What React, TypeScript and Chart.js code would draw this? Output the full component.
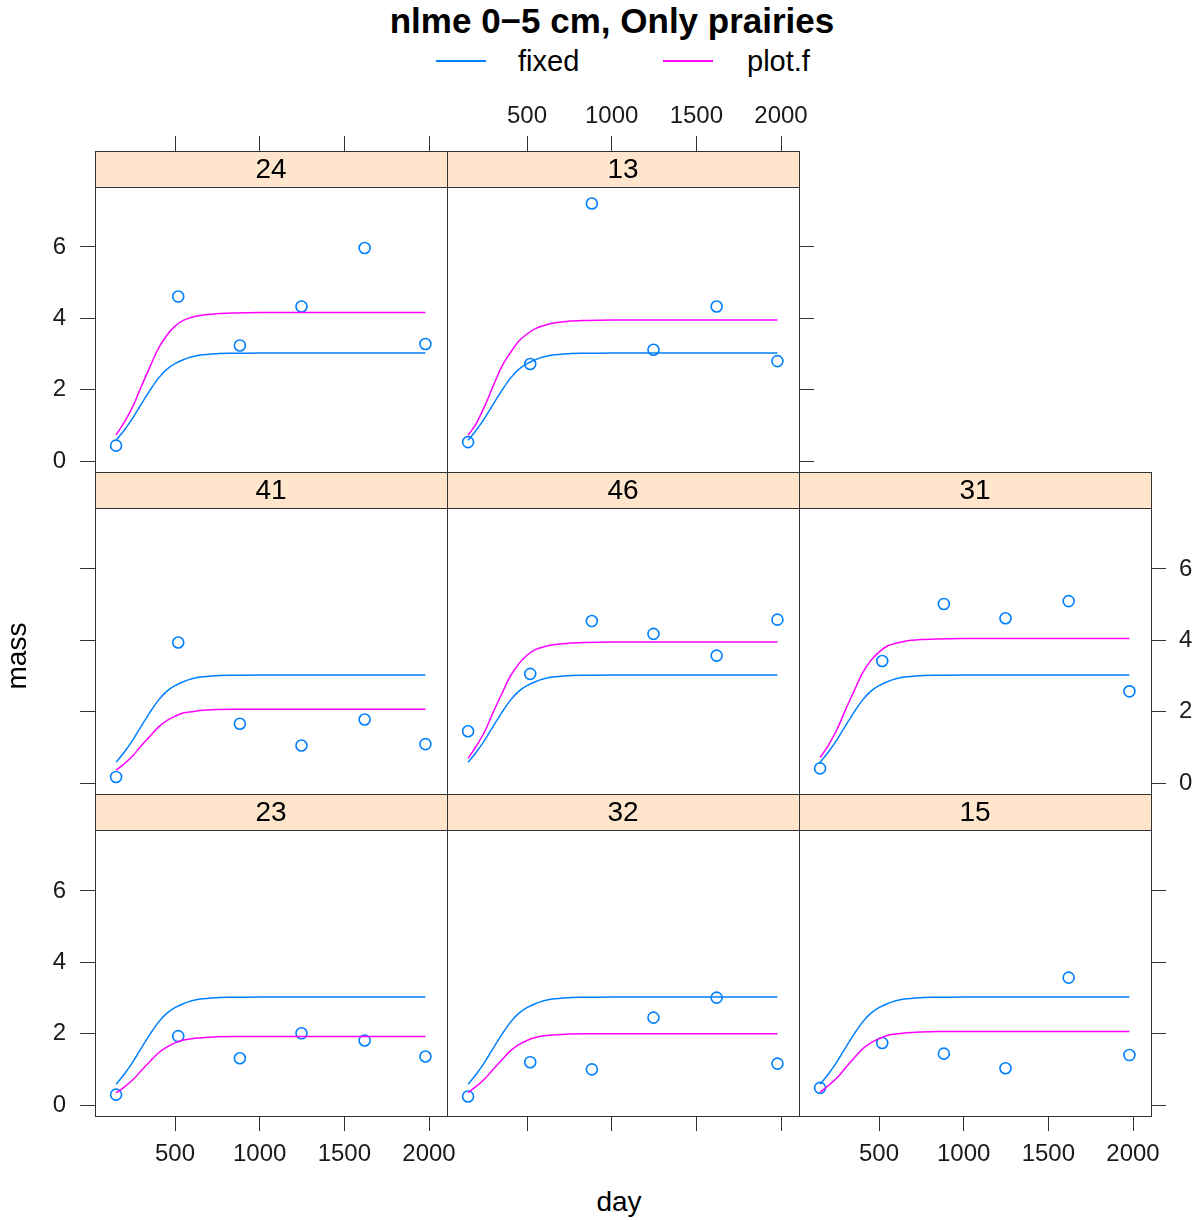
import React, { useEffect, useRef } from "react";
import { Chart, registerables } from "chart.js";

Chart.register(...registerables);

const FONT = "'Liberation Sans', Arial, Helvetica, sans-serif";

// ---------------- data ----------------
const sampleDays = [152, 519, 883, 1247, 1620, 1979];

const mass24 = [0.43, 4.61, 3.24, 4.33, 5.97, 3.28];
const mass13 = [0.53, 2.72, 7.22, 3.12, 4.33, 2.8];
const mass41 = [0.17, 3.94, 1.66, 1.05, 1.78, 1.09];
const mass46 = [1.45, 3.06, 4.54, 4.18, 3.57, 4.58];
const mass31 = [0.41, 3.42, 5.02, 4.62, 5.1, 2.57];
const mass23 = [0.29, 1.93, 1.31, 2.01, 1.81, 1.36];
const mass32 = [0.24, 1.2, 1.0, 2.45, 3.01, 1.16];
const mass15 = [0.48, 1.74, 1.44, 1.03, 3.57, 1.4];

const curveDays = [152, 200, 254, 300, 352, 400, 451, 500, 549, 600, 648, 746, 845, 1000, 1979];
const fixedCurve = [0.58, 0.86, 1.23, 1.59, 1.98, 2.31, 2.57, 2.73, 2.84, 2.92, 2.97, 3.01, 3.02, 3.03, 3.03];

const plotF24 = [0.73, 1.08, 1.56, 2.08, 2.64, 3.14, 3.52, 3.78, 3.94, 4.03, 4.08, 4.13, 4.15, 4.16, 4.16];
const plotF13 = [0.72, 1.05, 1.58, 2.1, 2.66, 3.02, 3.36, 3.56, 3.71, 3.8, 3.86, 3.92, 3.94, 3.95, 3.95];
const plotF41 = [0.36, 0.54, 0.78, 1.04, 1.31, 1.56, 1.75, 1.87, 1.96, 2.0, 2.03, 2.06, 2.07, 2.07, 2.07];
const plotF46 = [0.69, 1.03, 1.48, 1.98, 2.51, 2.98, 3.34, 3.58, 3.74, 3.82, 3.87, 3.92, 3.94, 3.95, 3.95];
const plotF31 = [0.71, 1.05, 1.52, 2.03, 2.57, 3.06, 3.43, 3.67, 3.84, 3.92, 3.97, 4.02, 4.04, 4.05, 4.05];
const plotF23 = [0.34, 0.5, 0.72, 0.96, 1.22, 1.45, 1.62, 1.74, 1.82, 1.86, 1.88, 1.91, 1.92, 1.92, 1.92];
const plotF32 = [0.35, 0.52, 0.75, 1.0, 1.27, 1.51, 1.69, 1.81, 1.89, 1.94, 1.96, 1.99, 2.0, 2.0, 2.0];
const plotF15 = [0.36, 0.54, 0.77, 1.03, 1.31, 1.56, 1.74, 1.86, 1.95, 1.99, 2.02, 2.05, 2.06, 2.06, 2.06];

const xTickValues = [500, 1000, 1500, 2000];
const yTickValues = [0, 2, 4, 6];

const titleText = "nlme 0\u22125 cm, Only prairies";
const legendLabels = ["fixed", "plot.f"];
const xLabel = "day";
const yLabel = "mass";

// ---------------- style / layout ----------------
const BLUE = "#0080ff";
const MAGENTA = "#ff00ff";
const STRIP_BG = "#ffe5cc";
const FRAME = "#333333";

const COL_LEFT = [95, 447, 799];
const COL_W = 352;
const ROW_TOP = [151, 472, 794];
const ROW_BOTTOM = [472, 794, 1116];
const STRIP_H = 36;
const M = 64;
const PX_PER_DAY = 254 / 1500;
const PX_PER_UNIT = 35.67;
const X_MIN = 500 - 80 / PX_PER_DAY;
const X_MAX = X_MIN + COL_W / PX_PER_DAY;
const Y_MIN = -11 / PX_PER_UNIT;
const TICK_LEN = 15;

type Mode = "none" | "ticks" | "labels";

interface PanelDef {
  label: string;
  row: number;
  col: number;
  mass: number[];
  plotF: number[];
  top: Mode;
  bottom: Mode;
  left: Mode;
  right: Mode;
}

const panels: PanelDef[] = [
  { label: "24", row: 0, col: 0, mass: mass24, plotF: plotF24, top: "ticks", bottom: "none", left: "labels", right: "none" },
  { label: "13", row: 0, col: 1, mass: mass13, plotF: plotF13, top: "labels", bottom: "none", left: "none", right: "ticks" },
  { label: "41", row: 1, col: 0, mass: mass41, plotF: plotF41, top: "none", bottom: "none", left: "ticks", right: "none" },
  { label: "46", row: 1, col: 1, mass: mass46, plotF: plotF46, top: "none", bottom: "none", left: "none", right: "none" },
  { label: "31", row: 1, col: 2, mass: mass31, plotF: plotF31, top: "none", bottom: "none", left: "none", right: "labels" },
  { label: "23", row: 2, col: 0, mass: mass23, plotF: plotF23, top: "none", bottom: "labels", left: "labels", right: "none" },
  { label: "32", row: 2, col: 1, mass: mass32, plotF: plotF32, top: "none", bottom: "ticks", left: "none", right: "none" },
  { label: "15", row: 2, col: 2, mass: mass15, plotF: plotF15, top: "none", bottom: "labels", left: "none", right: "ticks" },
];

function axis(
  position: "top" | "bottom" | "left" | "right",
  mode: Mode,
  min: number,
  max: number,
  tickVals: number[],
  padding: number
) {
  const horizontal = position === "top" || position === "bottom";
  return {
    type: "linear" as const,
    position,
    min,
    max,
    bounds: "data" as const,
    display: true,
    border: { display: false },
    grid: {
      display: mode !== "none",
      drawOnChartArea: false,
      drawTicks: true,
      tickLength: TICK_LEN,
      tickColor: FRAME,
      tickWidth: 1,
    },
    ticks: {
      display: mode === "labels",
      padding,
      color: "#1a1a1a",
      font: { family: FONT, size: 24 },
      maxRotation: 0,
      minRotation: 0,
      autoSkip: false,
      callback: (v: number | string) => String(v),
    },
    afterBuildTicks: (s: any) => {
      s.ticks = tickVals.map((v) => ({ value: v }));
    },
    afterFit: (s: any) => {
      if (horizontal) s.height = M;
      else s.width = M;
      s.paddingLeft = 0;
      s.paddingRight = 0;
      s.paddingTop = 0;
      s.paddingBottom = 0;
    },
  };
}

const framePlugin = {
  id: "latticeFrame",
  beforeDatasetsDraw(chart: any) {
    const { left, top, right } = chart.chartArea;
    const ctx = chart.ctx as CanvasRenderingContext2D;
    ctx.save();
    ctx.fillStyle = STRIP_BG;
    ctx.fillRect(left, top, right - left, STRIP_H);
    ctx.restore();
  },
  afterDatasetsDraw(chart: any) {
    const { left, top, right, bottom } = chart.chartArea;
    const ctx = chart.ctx as CanvasRenderingContext2D;
    const label = chart.options.plugins.latticeFrame.label as string;
    ctx.save();
    ctx.strokeStyle = FRAME;
    ctx.lineWidth = 1;
    const l = Math.round(left) + 0.5;
    const r = Math.round(right) + 0.5;
    const t = Math.round(top) + 0.5;
    const b = Math.round(bottom) + 0.5;
    const s = Math.round(top + STRIP_H) + 0.5;
    ctx.strokeRect(l, t, r - l, b - t);
    ctx.beginPath();
    ctx.moveTo(l, s);
    ctx.lineTo(r, s);
    ctx.stroke();
    ctx.fillStyle = "#000000";
    ctx.font = `28px ${FONT}`;
    ctx.textAlign = "center";
    ctx.textBaseline = "middle";
    ctx.fillText(label, (left + right) / 2, top + STRIP_H / 2 + 1);
    ctx.restore();
  },
};

function Panel({ p }: { p: PanelDef }) {
  const ref = useRef<HTMLCanvasElement>(null);
  const blockH = ROW_BOTTOM[p.row] - ROW_TOP[p.row];
  const W = COL_W + 2 * M;
  const H = blockH + 2 * M;

  useEffect(() => {
    if (!ref.current) return;
    const yMax = Y_MIN + blockH / PX_PER_UNIT;
    const chart = new Chart(ref.current, {
      type: "scatter",
      data: {
        datasets: [
          {
            label: legendLabels[0],
            data: curveDays.map((d, i) => ({ x: d, y: fixedCurve[i] })),
            showLine: true,
            borderColor: BLUE,
            borderWidth: 1.5,
            pointRadius: 0,
            cubicInterpolationMode: "monotone",
            xAxisID: "x",
            yAxisID: "y",
          },
          {
            label: legendLabels[1],
            data: curveDays.map((d, i) => ({ x: d, y: p.plotF[i] })),
            showLine: true,
            borderColor: MAGENTA,
            borderWidth: 1.5,
            pointRadius: 0,
            cubicInterpolationMode: "monotone",
            xAxisID: "x",
            yAxisID: "y",
          },
          {
            label: "mass",
            data: sampleDays.map((d, i) => ({ x: d, y: p.mass[i] })),
            showLine: false,
            pointStyle: "circle",
            pointRadius: 5.5,
            pointBorderWidth: 1.6,
            pointBorderColor: BLUE,
            pointBackgroundColor: "rgba(0,0,0,0)",
            borderColor: BLUE,
            backgroundColor: "rgba(0,0,0,0)",
            xAxisID: "x",
            yAxisID: "y",
          },
        ],
      } as any,
      options: {
        responsive: false,
        animation: false,
        devicePixelRatio: 1,
        events: [],
        layout: { padding: 0 },
        plugins: {
          legend: { display: false },
          tooltip: { enabled: false },
          title: { display: false },
          latticeFrame: { label: p.label },
        } as any,
        scales: {
          x: axis("bottom", p.bottom, X_MIN, X_MAX, xTickValues, 9),
          xTop: axis("top", p.top, X_MIN, X_MAX, xTickValues, 5),
          y: axis("left", p.left, Y_MIN, yMax, yTickValues, 14),
          yRight: axis("right", p.right, Y_MIN, yMax, yTickValues, 13),
        } as any,
      },
      plugins: [framePlugin],
    });
    return () => chart.destroy();
  }, []);

  return (
    <canvas
      ref={ref}
      width={W}
      height={H}
      style={{
        position: "absolute",
        left: COL_LEFT[p.col] - M,
        top: ROW_TOP[p.row] - M,
        width: W,
        height: H,
      }}
    />
  );
}

export default function App() {
  return (
    <div
      style={{
        position: "absolute",
        left: 0,
        top: 0,
        width: 1199,
        height: 1220,
        background: "#ffffff",
        overflow: "hidden",
        fontFamily: FONT,
        color: "#000",
      }}
    >
      <div
        style={{
          position: "absolute",
          left: 312,
          width: 600,
          top: 3,
          textAlign: "center",
          fontSize: 35,
          lineHeight: "35px",
          fontWeight: "bold",
          whiteSpace: "nowrap",
        }}
      >
        {titleText}
      </div>
      <div style={{ position: "absolute", left: 436, top: 60, width: 50, height: 1.5, background: BLUE }} />
      <div
        style={{ position: "absolute", left: 518, top: 47, fontSize: 29, lineHeight: "29px", whiteSpace: "nowrap" }}
      >
        {legendLabels[0]}
      </div>
      <div style={{ position: "absolute", left: 663, top: 60, width: 50, height: 1.5, background: MAGENTA }} />
      <div
        style={{ position: "absolute", left: 747, top: 47, fontSize: 29, lineHeight: "29px", whiteSpace: "nowrap" }}
      >
        {legendLabels[1]}
      </div>
      {panels.map((p) => (
        <Panel key={p.label} p={p} />
      ))}
      <div
        style={{
          position: "absolute",
          left: 519,
          width: 200,
          top: 1188,
          textAlign: "center",
          fontSize: 28,
          lineHeight: "28px",
          whiteSpace: "nowrap",
        }}
      >
        {xLabel}
      </div>
      <div
        style={{
          position: "absolute",
          left: 17 - 100,
          top: 656 - 14,
          width: 200,
          textAlign: "center",
          fontSize: 28,
          lineHeight: "28px",
          whiteSpace: "nowrap",
          transform: "rotate(-90deg)",
          transformOrigin: "100px 14px",
        }}
      >
        {yLabel}
      </div>
    </div>
  );
}
